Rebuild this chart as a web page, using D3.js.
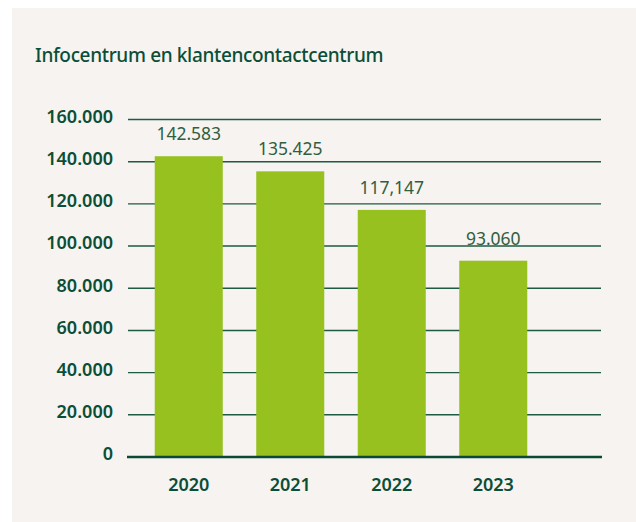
<!DOCTYPE html>
<html>
<head>
<meta charset="utf-8">
<script src="https://cdn.jsdelivr.net/npm/d3@7"></script>
<style>
  body { margin: 0; background: #ffffff; }
  #chart { width: 636px; height: 522px; }
  text { font-family: "Noto Sans", sans-serif; }
</style>
</head>
<body>
<div id="chart"></div>
<script>
// Data
const years = ["2020", "2021", "2022", "2023"];
const contacts = [142583, 135425, 117147, 93060];
const valueLabels = ["142.583", "135.425", "117,147", "93.060"];
const yTicks = [0, 20000, 40000, 60000, 80000, 100000, 120000, 140000, 160000];
const yTickLabels = ["0", "20.000", "40.000", "60.000", "80.000", "100.000", "120.000", "140.000", "160.000"];

const darkGreen = "#0b4e37";
const barGreen = "#96c11f";

const width = 636, height = 522;

const svg = d3.select("#chart").append("svg")
    .attr("width", width)
    .attr("height", height);

// Panel background
svg.append("rect")
    .attr("x", 12)
    .attr("y", 8)
    .attr("width", width - 12)
    .attr("height", height - 8)
    .attr("fill", "#f6f3f0");

// Title
svg.append("text")
    .attr("x", 35)
    .attr("y", 62)
    .attr("fill", darkGreen)
    .style("font-size", "19px")
    .style("font-weight", 500)
    .style("letter-spacing", "-0.35px")
    .text("Infocentrum en klantencontactcentrum");

// Scales
const xScale = d3.scaleBand()
    .domain(years)
    .range([138, 544])
    .paddingInner(0.33)
    .paddingOuter(0.165);

const yScale = d3.scaleLinear()
    .domain([0, 160000])
    .range([457, 119.5]);

const gridLeft = 128, gridRight = 601;

// Gridlines
svg.selectAll(".grid")
    .data(yTicks.filter(d => d > 0))
    .enter()
    .append("line")
    .attr("class", "grid")
    .attr("x1", gridLeft)
    .attr("x2", gridRight)
    .attr("y1", d => yScale(d))
    .attr("y2", d => yScale(d))
    .attr("stroke", "#1f5a45")
    .attr("stroke-width", 1.4);

// Y tick labels
svg.selectAll(".y-label")
    .data(yTicks)
    .enter()
    .append("text")
    .attr("class", "y-label")
    .attr("x", 113)
    .attr("y", d => yScale(d) - 3)
    .attr("dy", "0.35em")
    .attr("text-anchor", "end")
    .attr("fill", darkGreen)
    .style("font-size", "18px")
    .style("font-weight", 600)
    .text((d, i) => yTickLabels[i]);

// Bars
svg.selectAll(".bar")
    .data(contacts)
    .enter()
    .append("rect")
    .attr("class", "bar")
    .attr("x", (d, i) => xScale(years[i]))
    .attr("y", d => yScale(d))
    .attr("width", xScale.bandwidth())
    .attr("height", d => yScale(0) - yScale(d))
    .attr("fill", barGreen);

// Baseline
svg.append("line")
    .attr("x1", gridLeft - 1)
    .attr("x2", gridRight + 1)
    .attr("y1", yScale(0))
    .attr("y2", yScale(0))
    .attr("stroke", "#0a4a34")
    .attr("stroke-width", 2.6);

// Value labels
svg.selectAll(".bar-label")
    .data(contacts)
    .enter()
    .append("text")
    .attr("class", "bar-label")
    .attr("x", (d, i) => xScale(years[i]) + xScale.bandwidth() / 2)
    .attr("y", d => yScale(d) - 16)
    .attr("text-anchor", "middle")
    .attr("fill", "#2f5f3f")
    .style("font-size", "17.5px")
    .text((d, i) => valueLabels[i]);

// X labels
svg.selectAll(".x-label")
    .data(years)
    .enter()
    .append("text")
    .attr("class", "x-label")
    .attr("x", d => xScale(d) + xScale.bandwidth() / 2)
    .attr("y", 491)
    .attr("text-anchor", "middle")
    .attr("fill", darkGreen)
    .style("font-size", "18px")
    .style("font-weight", 600)
    .text(d => d);
</script>
</body>
</html>
